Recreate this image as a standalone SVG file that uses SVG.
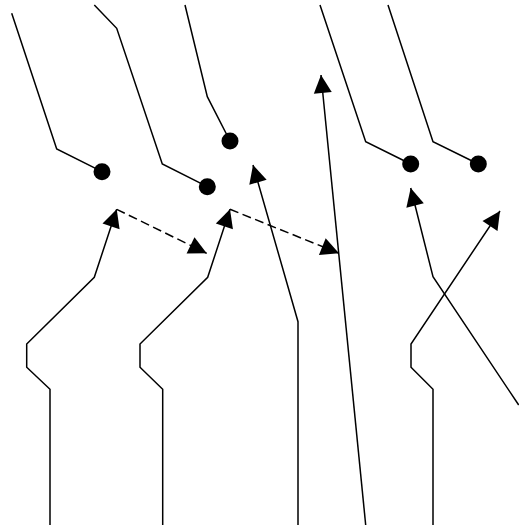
<svg xmlns="http://www.w3.org/2000/svg" width="519" height="529" viewBox="0 0 519 529">
<style>
.ln{fill:none;stroke:#000;stroke-width:1.5;stroke-linejoin:miter}
.ar{marker-end:url(#ah)}
.da{stroke-dasharray:9,4.5}
.dot{fill:#000}
</style>
<defs>
<marker id="ah" markerUnits="userSpaceOnUse" markerWidth="19" markerHeight="19" refX="18" refY="9" orient="auto" overflow="visible">
<path d="M0,0 L18,9 L0,18 Z" fill="#000"/>
</marker>
</defs>
<rect width="519" height="529" fill="#fff"/>
<g id="connectors">
<polyline class="ln" points="11.7,13.3 56.7,149 102,171.7"/>
<polyline class="ln" points="94.3,5 116.7,28.3 162.3,164 207.3,186.7"/>
<polyline class="ln" points="185,5 207.3,96.7 230,141"/>
<polyline class="ln" points="320,5 365.7,141.7 410.7,164"/>
<polyline class="ln" points="388,5 433,141.7 478.3,164"/>
<polyline class="ln ar" points="50,525 50,389.3 26.7,367.3 26.7,344 94.3,277.3 116.7,209.3"/>
<polyline class="ln ar" points="162.7,525 162.7,389.3 140,367.3 140,344 207.7,277.3 230,209.3"/>
<polyline class="ln ar" points="298,525 298,321.7 253,165"/>
<polyline class="ln ar" points="365.7,525 321,75"/>
<polyline class="ln ar" points="433,525 433,389.3 411,367.3 411,344 500,211"/>
<polyline class="ln ar" points="518.7,405 433,276.7 410.7,188"/>
<polyline class="ln ar da" points="116.7,209.3 206.7,253.3"/>
<polyline class="ln ar da" points="230,209.3 339,253.3"/>
</g>
<g id="n1"><circle class="dot" cx="102" cy="171.7" r="8.5"/></g>
<g id="n2"><circle class="dot" cx="207.3" cy="186.7" r="8.5"/></g>
<g id="n3"><circle class="dot" cx="230" cy="141" r="8.5"/></g>
<g id="n4"><circle class="dot" cx="410.7" cy="164" r="8.5"/></g>
<g id="n5"><circle class="dot" cx="478.3" cy="164" r="8.5"/></g>
</svg>
